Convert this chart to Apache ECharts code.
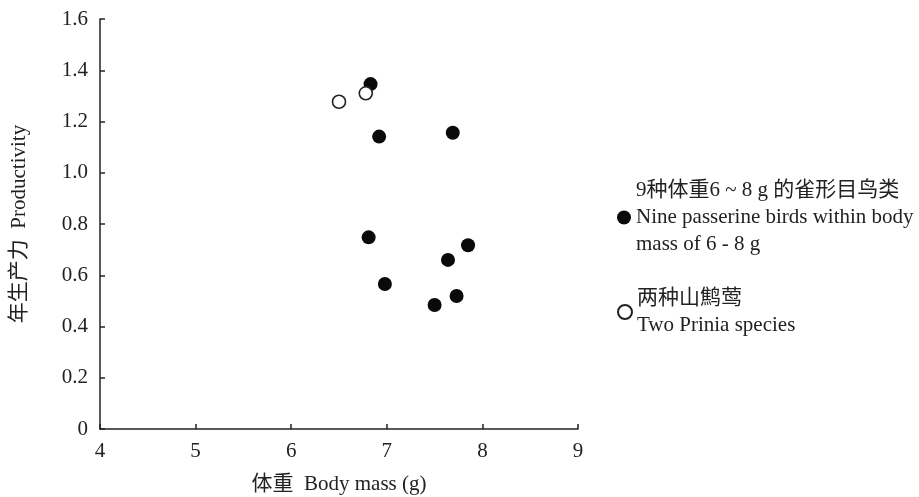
<!DOCTYPE html>
<html>
<head>
<meta charset="utf-8">
<script src="https://cdn.jsdelivr.net/npm/echarts@6/dist/echarts.min.js"></script>
<style>html,body{margin:0;padding:0;background:#fff}#c{width:919px;height:497px}</style>
</head>
<body>
<div id="c"></div>
<script>
// Data
var nineMass = [6.83, 6.92, 7.69, 6.81, 6.98, 7.64, 7.85, 7.50, 7.73];
var nineProd = [1.346, 1.141, 1.156, 0.748, 0.566, 0.660, 0.717, 0.484, 0.519];
var priniaMass = [6.50, 6.78];
var priniaProd = [1.277, 1.310];
var xTicks = [4, 5, 6, 7, 8, 9];
var yTicks = [0, 0.2, 0.4, 0.6, 0.8, 1.0, 1.2, 1.4, 1.6];
var seriesNames = ['9种体重6 ~ 8 g 的雀形目鸟类', '两种山鹪莺'];
var legendLabels = [
  '9种体重6 ~ 8 g 的雀形目鸟类\nNine passerine birds within body\nmass of 6 - 8 g',
  '两种山鹪莺\nTwo Prinia species'
];
var xName = '体重  Body mass (g)';
var yName = '年生产力  Productivity';

function pairs(xs, ys) { return xs.map(function (x, i) { return [x, ys[i]]; }); }

var FONT = "'Liberation Serif', 'Noto Sans CJK SC', serif";
var FS = 21;
var chart = echarts.init(document.getElementById('c'));
chart.setOption({
  animation: false,
  textStyle: { fontFamily: FONT },
  grid: { left: 100, right: 341, top: 19, bottom: 68, containLabel: false, outerBoundsMode: 'none' },
  xAxis: {
    type: 'value', min: xTicks[0], max: xTicks[xTicks.length - 1], interval: 1,
    name: xName, nameLocation: 'middle', nameGap: 45,
    nameTextStyle: { fontFamily: FONT, fontSize: FS, color: '#222' },
    axisLine: { lineStyle: { color: '#222', width: 1.5 } },
    axisTick: { inside: true, length: 5, lineStyle: { color: '#222', width: 1.5 } },
    axisLabel: { fontFamily: FONT, fontSize: FS, color: '#222', margin: 12 },
    splitLine: { show: false }
  },
  yAxis: {
    type: 'value', min: yTicks[0], max: yTicks[yTicks.length - 1], interval: 0.2,
    name: yName, nameLocation: 'middle', nameGap: 70, nameRotate: 90,
    nameTextStyle: { fontFamily: FONT, fontSize: FS, color: '#222' },
    axisLine: { lineStyle: { color: '#222', width: 1.5 } },
    axisTick: { inside: true, length: 5, lineStyle: { color: '#222', width: 1.5 } },
    axisLabel: {
      fontFamily: FONT, fontSize: FS, color: '#222', margin: 12,
      formatter: function (v) { return v === 0 ? '0' : v.toFixed(1); }
    },
    splitLine: { show: false }
  },
  legend: [
    {
      data: [seriesNames[0]], left: 612, top: 172, orient: 'vertical',
      itemWidth: 14, itemHeight: 14,
      formatter: function () { return legendLabels[0]; },
      textStyle: { fontFamily: FONT, fontSize: FS, color: '#222', lineHeight: 27 }
    },
    {
      data: [seriesNames[1]], left: 612, top: 280, orient: 'vertical',
      itemWidth: 14, itemHeight: 14,
      formatter: function () { return legendLabels[1]; },
      textStyle: { fontFamily: FONT, fontSize: FS, color: '#222', lineHeight: 27 }
    }
  ],
  series: [
    {
      name: seriesNames[0], type: 'scatter', symbol: 'circle', symbolSize: 14,
      data: pairs(nineMass, nineProd),
      itemStyle: { color: '#0a0a0a', opacity: 1 }
    },
    {
      name: seriesNames[1], type: 'scatter', symbol: 'circle', symbolSize: 13,
      data: pairs(priniaMass, priniaProd),
      itemStyle: { color: '#ffffff', borderColor: '#222', borderWidth: 1.6, opacity: 1 }
    }
  ]
});
</script>
</body>
</html>
